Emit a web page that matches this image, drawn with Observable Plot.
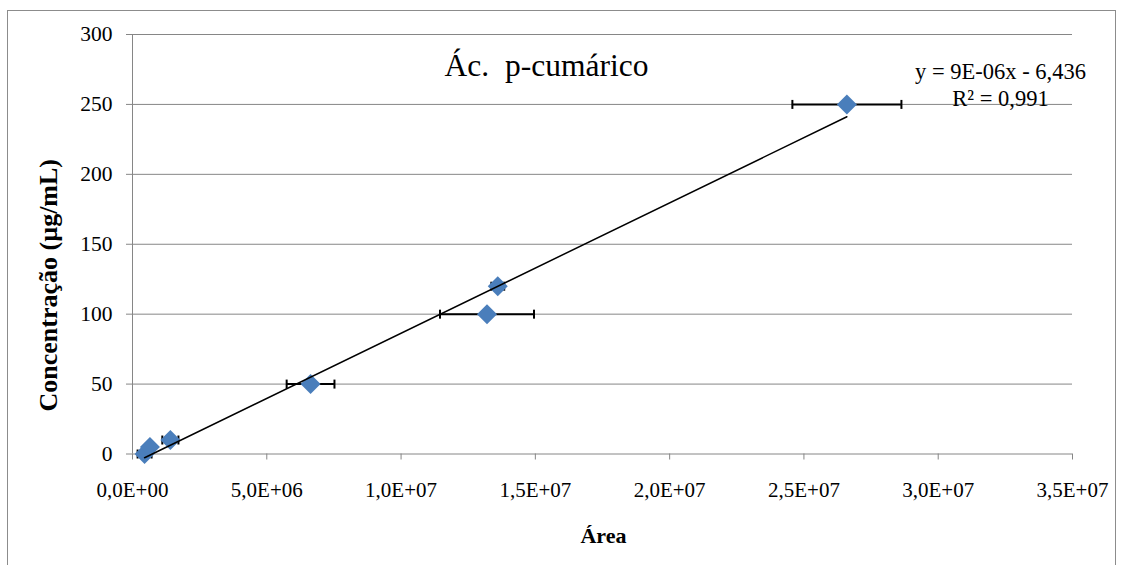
<!DOCTYPE html>
<html>
<head>
<meta charset="utf-8">
<script src="https://cdn.jsdelivr.net/npm/d3@7"></script>
<script src="https://cdn.jsdelivr.net/npm/@observablehq/plot@0.6"></script>
<style>
  html, body { margin: 0; padding: 0; background: #fff; }
  #wrap { position: relative; width: 1124px; height: 565px; overflow: hidden; }
  #border { position: absolute; left: 7px; top: 10px; width: 1109px; height: 560px; border: 1px solid #8c8c8c; box-sizing: border-box; pointer-events: none; }
  #chart { position: absolute; left: 0; top: 0; }
  #chart svg text { font-family: "Liberation Serif", "Times New Roman", serif !important; font-variant: normal !important; }
</style>
</head>
<body>
<div id="wrap"><div id="chart"></div><div id="border"></div></div>
<script>
// Data
const area = [0.45e6, 0.65e6, 1.41e6, 6.63e6, 13.2e6, 13.6e6, 26.6e6];
const concentration = [0, 5, 10, 50, 100, 120, 250];
const areaError = [0.26e6, 0.15e6, 0.3e6, 0.89e6, 1.75e6, 0.24e6, 2.03e6];
const xTicks = [0, 5e6, 10e6, 15e6, 20e6, 25e6, 30e6, 35e6];
const yTicks = [0, 50, 100, 150, 200, 250, 300];
const title = "Ác.  p-cumárico";
const equation = "y = 9E-06x - 6,436";
const r2 = "R² = 0,991";
const xLabel = "Área";
const yLabel = "Concentração (µg/mL)";

const data = area.map((a, i) => ({area: a, conc: concentration[i], err: areaError[i]}));

const gray = "#868686";
const blue = "#4a7ebb";
const font = "Liberation Serif, Times New Roman, serif";

const fmtX = d => {
  if (d === 0) return "0,0E+00";
  const e = Math.floor(Math.log10(d));
  const m = d / Math.pow(10, e);
  return m.toFixed(1).replace(".", ",") + "E+" + String(e).padStart(2, "0");
};

const capSymbol = {
  draw(ctx, size) {
    ctx.moveTo(0, -4.5);
    ctx.lineTo(0, 4.5);
  }
};

const chart = Plot.plot({
  width: 1124,
  height: 565,
  marginLeft: 132,
  marginRight: 52,
  marginTop: 34,
  marginBottom: 111.5,
  style: {fontFamily: font, fontSize: "21px", background: "transparent", color: "#000"},
  x: {domain: [0, 35e6]},
  y: {domain: [0, 300]},
  marks: [
    Plot.gridY(yTicks, {stroke: gray, strokeOpacity: 1, strokeWidth: 1}),
    Plot.ruleX([0], {stroke: gray, strokeWidth: 1}),
    Plot.axisY({ticks: yTicks, tickSize: 6, tickPadding: 14, stroke: gray, strokeOpacity: 1, label: null, fontSize: 21.5, fontFamily: font, fill: "#000", tickFormat: d => String(d)}),
    Plot.axisX({ticks: xTicks, tickSize: 6, tickPadding: 22, stroke: gray, strokeOpacity: 1, label: null, fontSize: 21, fontFamily: font, fill: "#000", tickFormat: fmtX}),
    // error bars
    Plot.ruleY(data, {y: "conc", x1: d => d.area - d.err, x2: d => d.area + d.err, stroke: "#000", strokeWidth: 2}),
    Plot.dot(data, {x: d => d.area - d.err, y: "conc", symbol: capSymbol, stroke: "#000", strokeWidth: 2, fill: "none", r: 3}),
    Plot.dot(data, {x: d => d.area + d.err, y: "conc", symbol: capSymbol, stroke: "#000", strokeWidth: 2, fill: "none", r: 3}),
    // markers
    Plot.dot(data, {x: "area", y: "conc", symbol: "diamond2", r: 9, fill: blue, stroke: "none"}),
    // trendline
    Plot.linearRegressionY(data, {x: "area", y: "conc", ci: 0, stroke: "#000", strokeWidth: 1.5}),
    // annotations
    Plot.text([title], {frameAnchor: "top", dx: -56, dy: 31, fontSize: 31.5, lineAnchor: "middle", textAnchor: "middle", fill: "#000"}),
    Plot.text([equation], {frameAnchor: "top-right", dx: -72, dy: 37, fontSize: 22.5, lineAnchor: "middle", textAnchor: "middle", fill: "#000"}),
    Plot.text([r2], {frameAnchor: "top-right", dx: -72, dy: 64, fontSize: 22.5, lineAnchor: "middle", textAnchor: "middle", fill: "#000"}),
    Plot.text([xLabel], {frameAnchor: "bottom", dx: 1, dy: 82, fontSize: 22, fontWeight: "bold", lineAnchor: "middle", textAnchor: "middle", fill: "#000"}),
    Plot.text([yLabel], {frameAnchor: "left", dx: -84, dy: 41, rotate: -90, fontSize: 26, fontWeight: "bold", lineAnchor: "middle", textAnchor: "middle", fill: "#000"})
  ]
});

document.getElementById("chart").appendChild(chart);
</script>
</body>
</html>
